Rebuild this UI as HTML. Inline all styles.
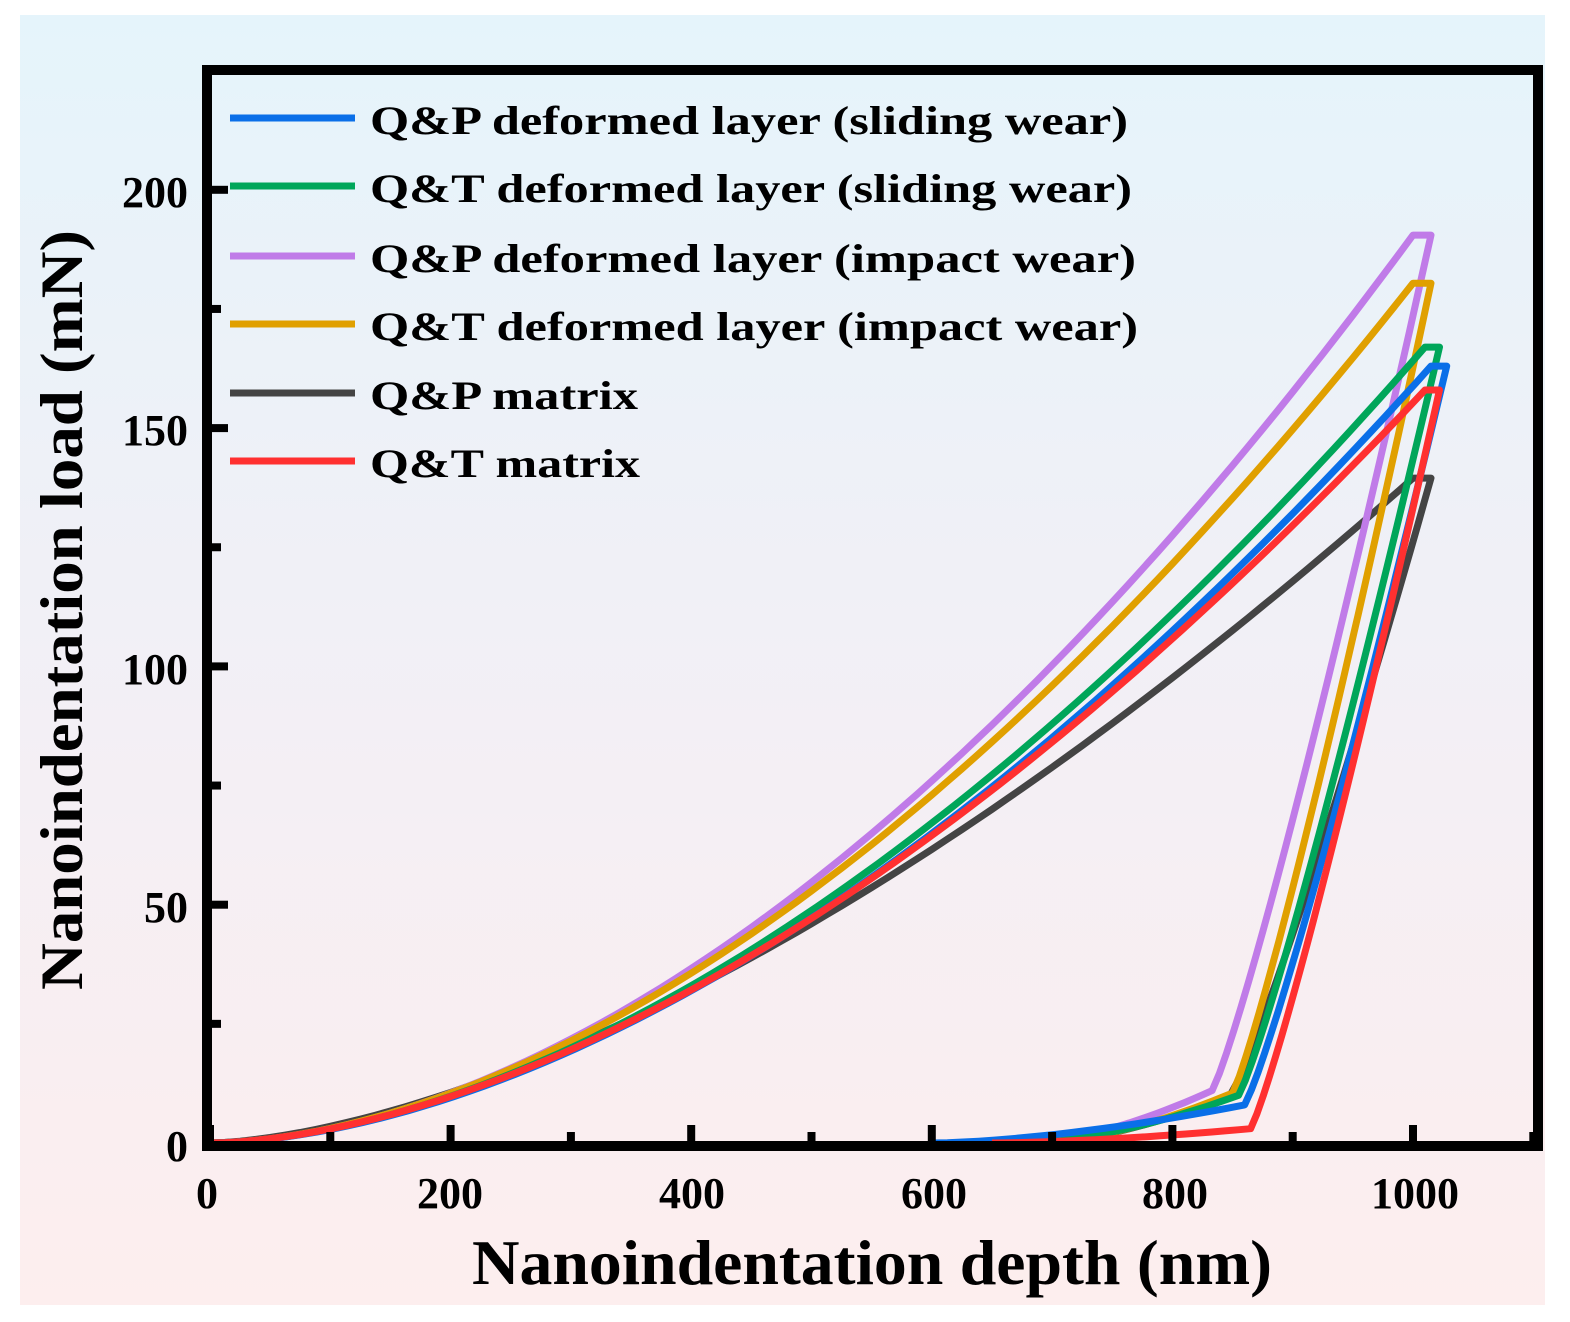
<!DOCTYPE html>
<html><head><meta charset="utf-8"><style>
body{margin:0;background:#fff;}
svg{display:block;}
text{font-family:"Liberation Serif",serif;font-weight:bold;fill:#000;}
</style></head><body>
<svg id="s" width="1570" height="1322" viewBox="0 0 1570 1322" xmlns="http://www.w3.org/2000/svg">
<defs><linearGradient id="bg" x1="0" y1="0" x2="0" y2="1">
<stop offset="0" stop-color="#e5f4fb"/><stop offset="0.55" stop-color="#f3eff5"/><stop offset="1" stop-color="#fdeeee"/></linearGradient></defs>
<rect x="20" y="15" width="1525" height="1290" fill="url(#bg)"/>
<g id="curves" fill="none" stroke-width="7" stroke-linejoin="round"></g>
<rect x="207" y="70" width="1331" height="1076" fill="none" stroke="#000" stroke-width="10"/>
<g id="ticks" stroke="#000" stroke-width="8"></g>
<g font-size="44" text-anchor="end">
<text x="188" y="1161">0</text><text x="188" y="922">50</text><text x="188" y="684">100</text><text x="188" y="445">150</text><text x="188" y="207">200</text>
</g>
<g font-size="44" text-anchor="middle">
<text x="207" y="1208">0</text><text x="450" y="1208">200</text><text x="692" y="1208">400</text><text x="934" y="1208">600</text><text x="1175" y="1208">800</text><text x="1415" y="1208">1000</text>
</g>
<text x="472" y="1284" font-size="64" textLength="800" lengthAdjust="spacingAndGlyphs">Nanoindentation depth (nm)</text>
<text transform="translate(82,990) rotate(-90)" font-size="60" textLength="760" lengthAdjust="spacingAndGlyphs">Nanoindentation load (mN)</text>
<g stroke-width="7">
<line x1="230" y1="118" x2="355" y2="118" stroke="#0a6fe8"/>
<line x1="230" y1="186" x2="355" y2="186" stroke="#00a65a"/>
<line x1="230" y1="256" x2="355" y2="256" stroke="#c07be8"/>
<line x1="230" y1="324" x2="355" y2="324" stroke="#e0a000"/>
<line x1="230" y1="393" x2="355" y2="393" stroke="#444"/>
<line x1="230" y1="461" x2="355" y2="461" stroke="#ff3030"/>
</g>
<g font-size="40">
<text x="370" y="134" textLength="758" lengthAdjust="spacingAndGlyphs">Q&amp;P deformed layer (sliding wear)</text>
<text x="370" y="202" textLength="762" lengthAdjust="spacingAndGlyphs">Q&amp;T deformed layer (sliding wear)</text>
<text x="370" y="272" textLength="766" lengthAdjust="spacingAndGlyphs">Q&amp;P deformed layer (impact wear)</text>
<text x="370" y="340" textLength="768" lengthAdjust="spacingAndGlyphs">Q&amp;T deformed layer (impact wear)</text>
<text x="370" y="409" textLength="268" lengthAdjust="spacingAndGlyphs">Q&amp;P matrix</text>
<text x="370" y="477" textLength="270" lengthAdjust="spacingAndGlyphs">Q&amp;T matrix</text>
</g>
</svg>
<script>
function X(d){return 210+d*1.203;}function Y(l){return 1143-l*4.766;}
var t=document.getElementById('ticks'),h='';
for(var d=0;d<=1100;d+=100){var x=X(d),len=d%200==0?16:9;h+='<line x1="'+x+'" y1="1141" x2="'+x+'" y2="'+(1141-len)+'"/>';}
for(var l=25;l<=225;l+=25){var y=Y(l),len=l%50==0?16:9;h+='<line x1="212" y1="'+y+'" x2="'+(212+len)+'" y2="'+y+'"/>';}
t.innerHTML=h;
var S=[
["#444",1000,139.5,1015,848,10,690,1.6],
["#c07be8",1000,190.5,1015,833,11,680,1.8],
["#e0a000",1000,180.4,1015,850,10.5,690,1.77],
["#00a65a",1010,167,1022,855,10,680,1.75],
["#0a6fe8",1015,163,1028,860,8,600,1.75],
["#ff3030",1010,158,1022,865,3,650,1.72]];
var g=document.getElementById('curves'),out='';
S.forEach(function(s){var p=[];var dm=s[1],Lm=s[2];
for(var i=0;i<=80;i++){var d=dm*i/80;p.push([d,Lm*Math.pow(d/dm,s[7])]);}
p.push([s[3],Lm]);
var du=s[3],dk=s[4],Lk=s[5];
for(var i=1;i<=30;i++){var f=1-i/30;var d=dk+(du-dk)*f;p.push([d,Lk+(Lm-Lk)*Math.pow(f,1.15)]);}
for(var i=1;i<=20;i++){var f=1-i/20;var d=s[6]+(dk-s[6])*f;p.push([d,Lk*Math.pow(f,1.6)]);}
out+='<polyline stroke="'+s[0]+'" points="'+p.map(function(q){return X(q[0]).toFixed(1)+','+Y(q[1]).toFixed(1)}).join(' ')+'"/>';});
g.innerHTML=out;
</script>
</body></html>
